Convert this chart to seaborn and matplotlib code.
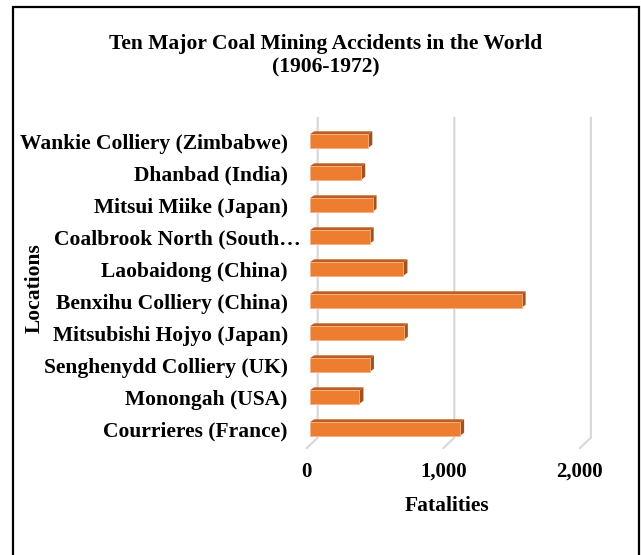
import numpy as np
import pandas as pd
import seaborn as sns
import matplotlib
matplotlib.use("Agg")
import matplotlib.pyplot as plt
from matplotlib.patches import Polygon, Rectangle
from matplotlib.lines import Line2D
from matplotlib.transforms import IdentityTransform, ScaledTranslation

# ---- data (top to bottom as displayed) ----
locations = [
    "Wankie Colliery (Zimbabwe)",
    "Dhanbad (India)",
    "Mitsui Miike (Japan)",
    "Coalbrook North (South\u2026",
    "Laobaidong (China)",
    "Benxihu Colliery (China)",
    "Mitsubishi Hojyo (Japan)",
    "Senghenydd Colliery (UK)",
    "Monongah (USA)",
    "Courrieres (France)",
]
fatalities = [427, 375, 458, 437, 684, 1549, 687, 439, 362, 1099]
x_ticks = [0, 1000, 2000]
x_tick_labels = ["0", "1,000", "2,000"]

title = "Ten Major Coal Mining Accidents in the World\n(1906-1972)"

sns.set_theme(style="white")
plt.rcParams["font.family"] = ["Liberation Serif", "DejaVu Serif"]

W, H = 641, 555
fig = plt.figure(figsize=(W / 100, H / 100), dpi=100)
fig.patch.set_facecolor("white")

# axes = bar plane
ax_left, ax_right = 310, 583.2
ax_top, ax_bot = 125, 445
ax = fig.add_axes([ax_left / W, (H - ax_bot) / H, (ax_right - ax_left) / W, (ax_bot - ax_top) / H])
ax.patch.set_alpha(0)

df = pd.DataFrame({"Location": locations, "Fatalities": fatalities})
sns.barplot(data=df, y="Location", x="Fatalities", orient="h", color="#ED7D31",
            saturation=1, width=0.42, edgecolor="#F4B183", linewidth=0.6, ax=ax, zorder=2)

ax.set_xlim(0, 2000)
ax.set_ylim(9.5, -0.5)
ax.set_xticks(x_ticks)
ax.set_xticklabels(x_tick_labels)
for s in ax.spines.values():
    s.set_visible(False)
ax.grid(False)
ax.tick_params(axis="both", length=0, colors="black")
ax.tick_params(axis="y", pad=16, labelsize=15.5)
ax.tick_params(axis="x", pad=12, labelsize=15)
for lab in ax.get_xticklabels() + ax.get_yticklabels():
    lab.set_fontweight("bold")

# x tick labels sit on the front edge of the 3D floor
for lab in ax.get_xticklabels():
    lab.set_transform(lab.get_transform() + ScaledTranslation(-3.3 / 100, 0, fig.dpi_scale_trans))
# the truncated label overflows to the right in the original
for lab in ax.get_yticklabels():
    if lab.get_text().endswith("\u2026"):
        lab.set_transform(lab.get_transform() + ScaledTranslation(13 / 100, 0, fig.dpi_scale_trans))

ax.set_xlabel("Fatalities", fontsize=15.5, fontweight="bold", color="black", labelpad=10)
ax.set_ylabel("Locations", fontsize=15.5, fontweight="bold", color="black")
ax.yaxis.set_label_coords((45 - ax_left) / (ax_right - ax_left), 0.49)

# ---- 3D wall gridlines (display pixel coords) ----
D = np.array([11.0, 10.5])  # depth vector (right, up) in pixels
back = 0.7 * D
front = -0.3 * D
idt = IdentityTransform()
y_bot_disp = H - ax_bot
y_top_disp = H - ax_top
for xv in x_ticks:
    xp = ax.transData.transform((xv, 0))[0]
    xs = [xp + front[0], xp + back[0], xp + back[0]]
    ys = [y_bot_disp + front[1], y_bot_disp + back[1], y_top_disp + back[1]]
    ax.add_line(Line2D(xs, ys, transform=idt, color="#D9D9D9", lw=1.6,
                       clip_on=False, zorder=0.5))

# ---- 3D faces of bars ----
dx, dy = 4.0, 3.0
for p in list(ax.patches):
    x0, y0, w, h = p.get_x(), p.get_y(), p.get_width(), p.get_height()
    (a1, b1) = ax.transData.transform((x0, y0))
    (a2, b2) = ax.transData.transform((x0 + w, y0 + h))
    L, R = min(a1, a2), max(a1, a2)
    T, B = max(b1, b2), min(b1, b2)
    top = Polygon([(L, T), (R, T), (R + dx, T + dy), (L + dx, T + dy)], closed=True,
                  transform=idt, facecolor="#BE5F22", edgecolor="none", clip_on=False, zorder=1.9)
    side = Polygon([(R, B), (R, T), (R + dx, T + dy), (R + dx, B + dy)], closed=True,
                   transform=idt, facecolor="#A4521B", edgecolor="none", clip_on=False, zorder=1.9)
    ax.add_patch(top)
    ax.add_patch(side)

# ---- title ----
fig.text(326 / W, 1 - 55.5 / H, title, ha="center", va="center", fontsize=15.5,
         fontweight="bold", color="black", linespacing=1.25)

# ---- outer frame ----
fig.add_artist(Rectangle((12.7, -20), 639.3 - 12.7, (H - 6.7) + 20, transform=idt,
                         fill=False, edgecolor="black", lw=1.6, zorder=10))

fig.savefig("out.png", dpi=100)
